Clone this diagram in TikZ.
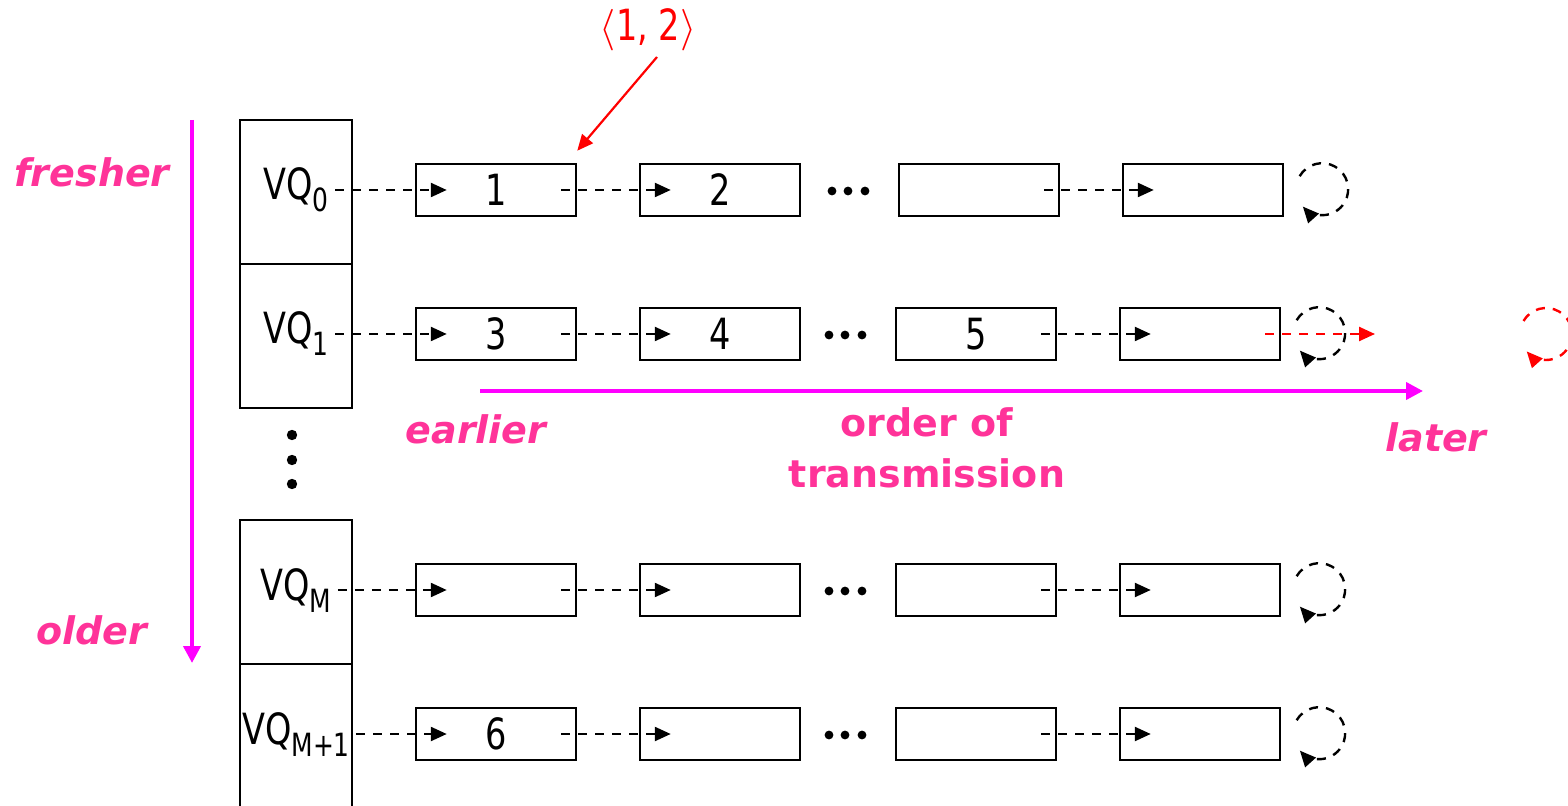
\documentclass[tikz,border=0pt]{standalone}
\usepackage{fontspec}
\setmainfont{DejaVu Sans}[FakeStretch=0.78]
\newfontfamily\pinkfont{DejaVu Sans}
\usetikzlibrary{arrows.meta,calc}
\definecolor{pinktxt}{HTML}{FF3399}
\definecolor{mag}{HTML}{FF00FF}
\newcommand\vqsub[1]{\raisebox{-6pt}{\fontsize{16pt}{16pt}\selectfont #1}}
\begin{document}
\begin{tikzpicture}[x=0.5pt,y=-0.5pt,
  qbox/.style={draw,line width=1.25pt,minimum width=56pt,minimum height=72pt,inner sep=0pt},
  lbox/.style={draw,line width=1.25pt,minimum width=80pt,minimum height=26pt,inner sep=0pt,font=\fontsize{21.5pt}{25pt}\selectfont},
  vqlbl/.style={anchor=base,inner ysep=0pt,inner xsep=3pt,font=\fontsize{21.5pt}{25pt}\selectfont},
  conn/.style={dash pattern=on 4.5pt off 4pt,line width=1.2pt,-{Triangle[length=8pt,width=7pt]}},
  redconn/.style={conn,red},
  pinklbl/.style={anchor=base,text=pinktxt,inner sep=0pt,font=\pinkfont\bfseries\itshape\fontsize{19pt}{23pt}\selectfont},
  pinkup/.style={anchor=base,text=pinktxt,inner sep=0pt,font=\pinkfont\bfseries\fontsize{19pt}{23pt}\selectfont},
  magarrow/.style={mag,line width=2pt,-{Triangle[length=8.5pt,width=8.5pt]}},
  redlbl/.style={text=red,inner sep=0pt,anchor=base,font=\fontsize{21.5pt}{25pt}\selectfont}
]
\useasboundingbox (0,0) rectangle (1568,806);
\clip (0,0) rectangle (1568,806);

% VQ column
\node[qbox] (vq0) at (296,192) {};
\node[qbox] (vq1) at (296,336) {};
\node[qbox] (vqM) at (296,592) {};
\node[qbox] (vqM1) at (296,736) {};
\node[vqlbl] (l0) at (296,200) {VQ\vqsub{0}};
\node[vqlbl] (l1) at (296,344) {VQ\vqsub{1}};
\node[vqlbl] (lM) at (296,600) {VQ\vqsub{M}};
\node[vqlbl] (lM1) at (296,744) {VQ\vqsub{M+1}};
\fill (292,435) circle[radius=2.6pt] (292,460) circle[radius=2.6pt] (292,484) circle[radius=2.6pt];

% row 0
\node[lbox] (b00) at (496,190) {1};
\node[lbox] (b01) at (720,190) {2};
\node[lbox] (b02) at (979,190) {};
\node[lbox] (b03) at (1203,190) {};
% row 1
\node[lbox] (b10) at (496,334) {3};
\node[lbox] (b11) at (720,334) {4};
\node[lbox] (b12) at (976,334) {5};
\node[lbox] (b13) at (1200,334) {};
% row M
\node[lbox] (b20) at (496,590) {};
\node[lbox] (b21) at (720,590) {};
\node[lbox] (b22) at (976,590) {};
\node[lbox] (b23) at (1200,590) {};
% row M+1
\node[lbox] (b30) at (496,734) {6};
\node[lbox] (b31) at (720,734) {};
\node[lbox] (b32) at (976,734) {};
\node[lbox] (b33) at (1200,734) {};

% dots between columns 2 and 3
\fill (832,191) circle[radius=2.2pt] (848,191) circle[radius=2.2pt] (865,191) circle[radius=2.2pt];
\foreach \yy in {335,591,735}{
  \fill (829,\yy) circle[radius=2.2pt] (845,\yy) circle[radius=2.2pt] (862,\yy) circle[radius=2.2pt];
}

% connectors
\draw[conn] (l0.east |- b00.west) -- ([xshift=16pt]b00.west);
\draw[conn] (l1.east |- b10.west) -- ([xshift=16pt]b10.west);
\draw[conn] (lM.east |- b20.west) -- ([xshift=16pt]b20.west);
\draw[conn] (lM1.east |- b30.west) -- ([xshift=16pt]b30.west);
\foreach \r in {0,1,2,3}{
  \draw[conn] ([xshift=7.7pt,yshift=6.9pt]b\r3.east) arc[start angle=150,end angle=-138,radius=13pt];
  \draw[conn] ([xshift=-8pt]b\r0.east) -- ([xshift=16pt]b\r1.west);
  \draw[conn] ([xshift=-8pt]b\r2.east) -- ([xshift=16pt]b\r3.west);
}

% red additions
\coordinate (rt) at (1375,334);
\coordinate (rc) at (1546,334);
\draw[redconn] ([xshift=-8pt]b13.east) -- (rt);
\draw[redconn] ([xshift=-11.26pt,yshift=6.5pt]rc) arc[start angle=150,end angle=-138,radius=13pt];
\node[redlbl] (lab) at (648,41) {$\langle$1, 2$\rangle$};
\coordinate (rs) at (657,57);
\draw[red,line width=1.1pt,-{Triangle[length=8pt,width=7pt]}] (rs) -- ([yshift=6pt]b00.north east);

% magenta arrows
\coordinate (vtop) at (192,120);
\coordinate (vbot) at (192,663);
\draw[magarrow] (vtop) -- (vbot);
\coordinate (hl) at (480,391);
\coordinate (hr) at (1423,391);
\draw[magarrow] (hl) -- (hr);

% pink labels
\node[pinklbl] (fresher) at (92,187) {fresher};
\node[pinklbl] (older) at (92,644) {older};
\node[pinklbl] (earlier) at (476,444) {earlier};
\node[pinklbl] (later) at (1436,452) {later};
\node[pinkup] (order) at (927,437) {order of};
\node[pinkup] (trans) at (927,488) {transmission};
\end{tikzpicture}
\end{document}
